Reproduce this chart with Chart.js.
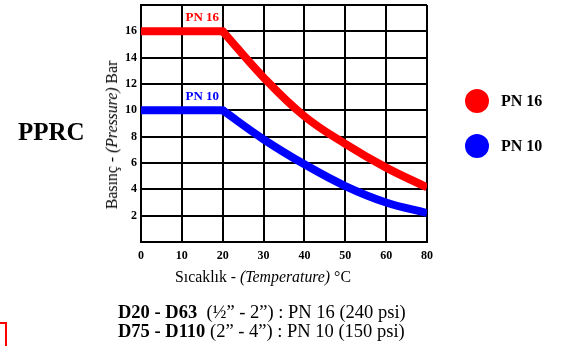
<!DOCTYPE html>
<html>
<head>
<meta charset="utf-8">
<script src="https://cdn.jsdelivr.net/npm/chart.js@4"></script>
<style>
  html, body { margin: 0; padding: 0; background: #fff; }
  #wrap { position: relative; width: 569px; height: 346px; overflow: hidden; font-family: "Liberation Serif", "Times New Roman", serif; color: #000; }
  #c { position: absolute; left: 0; top: 0; }
  .abs { position: absolute; white-space: nowrap; }
  #pprc { left: 18px; top: 117px; font-size: 25px; font-weight: bold; line-height: 30px; }
  #ytitle { left: 112px; top: 135px; font-size: 15.8px; transform: translate(-50%, -50%) rotate(-90deg); }
  #xtitle { left: 263px; top: 277px; font-size: 15.8px; transform: translate(-50%, -50%); }
  .leg { left: 465px; width: 24px; height: 24px; border-radius: 50%; }
  .legt { left: 501px; font-size: 16px; font-weight: bold; transform: translateY(-50%); }
  #note { left: 118px; top: 302.5px; font-size: 18.5px; line-height: 19px; }
  #bracket { left: -12px; top: 322px; width: 15px; height: 40px; border: 2px solid #ff0000; }
</style>
</head>
<body>
<div id="wrap">
  <canvas id="c" width="569" height="346"></canvas>
  <div class="abs" id="pprc">PPRC</div>
  <div class="abs" id="ytitle">Basınç - <i>(Pressure)</i> Bar</div>
  <div class="abs" id="xtitle">Sıcaklık - <i>(Temperature)</i> °C</div>
  <div class="abs leg" style="top:89px;background:#ff0000"></div>
  <div class="abs legt" style="top:101px">PN 16</div>
  <div class="abs leg" style="top:134px;background:#0000ff"></div>
  <div class="abs legt" style="top:146px">PN 10</div>
  <div class="abs" id="note"><b>D20 - D63</b>&nbsp; (½” - 2”) : PN 16 (240 psi)<br><b>D75 - D110</b> (2” - 4”) : PN 10 (150 psi)</div>
  <div class="abs" id="bracket"></div>
</div>
<script>
// ---- data ----
const temperatures = ['0', '10', '20', '30', '40', '50', '60', '80'];
const pn16Values = [16, 16, 16, 12.5, 9.55, 7.45, 5.65, 4.15];
const pn10Values = [10, 10, 10, 7.8, 5.9, 4.25, 3.0, 2.2];
const yTickLabels = [2, 4, 6, 8, 10, 12, 14, 16];
const yMax = 18;
const seriesNames = ['PN 16', 'PN 10'];
const seriesColors = ['#ff0000', '#0000ff'];
const flatEndIndex = 2; // constant-pressure range ends at 20 °C

function flatPart(vals) { return vals.map((v, i) => i <= flatEndIndex ? v : null); }
function curvePart(vals) { return vals.map((v, i) => i >= flatEndIndex ? v : null); }

const seriesValues = [pn16Values, pn10Values];
const datasets = [];
seriesValues.forEach((vals, s) => {
  datasets.push({
    label: seriesNames[s], data: flatPart(vals), borderColor: seriesColors[s],
    borderWidth: 8, pointRadius: 0, tension: 0, borderCapStyle: 'round', clip: 0, fill: false, spanGaps: false
  });
  datasets.push({
    label: seriesNames[s] + ' curve', data: curvePart(vals), borderColor: seriesColors[s],
    borderWidth: 8, pointRadius: 0, tension: 0.4, borderCapStyle: 'butt', clip: 0, fill: false, spanGaps: false
  });
});

const seriesLabelPlugin = {
  id: 'seriesLabels',
  afterDatasetsDraw(chart) {
    const ctx = chart.ctx, xs = chart.scales.x, ys = chart.scales.y;
    ctx.save();
    ctx.font = 'bold 13px "Liberation Serif"';
    ctx.textAlign = 'center';
    ctx.textBaseline = 'middle';
    seriesValues.forEach((vals, s) => {
      const x = (xs.getPixelForValue(flatEndIndex - 1) + xs.getPixelForValue(flatEndIndex)) / 2;
      const y = ys.getPixelForValue(vals[flatEndIndex]) - 14;
      ctx.fillStyle = seriesColors[s];
      ctx.fillText(seriesNames[s], x, y);
    });
    ctx.restore();
  }
};

new Chart(document.getElementById('c'), {
  type: 'line',
  data: { labels: temperatures, datasets },
  plugins: [seriesLabelPlugin],
  options: {
    responsive: false,
    animation: false,
    events: [],
    layout: { padding: { left: 100, top: 5, right: 142, bottom: 74 } },
    plugins: { legend: { display: false }, tooltip: { enabled: false } },
    scales: {
      x: {
        type: 'category',
        offset: false,
        grid: { color: '#000', lineWidth: 2, drawTicks: false },
        border: { color: '#000', width: 2 },
        ticks: { color: '#000', font: { family: 'Liberation Serif', size: 12, weight: 'bold' }, padding: 7, maxRotation: 0, autoSkip: false },
        afterFit(scale) { scale.height = 30; scale.paddingLeft = 0; scale.paddingRight = 0; }
      },
      y: {
        min: 0, max: yMax,
        grid: { color: '#000', lineWidth: 2, drawTicks: false },
        border: { color: '#000', width: 2 },
        ticks: {
          stepSize: 2, color: '#000', padding: 4,
          font: { family: 'Liberation Serif', size: 12, weight: 'bold' },
          callback: (v) => yTickLabels.includes(v) ? String(v) : ''
        },
        afterFit(scale) { scale.width = 41; scale.paddingTop = 0; scale.paddingBottom = 0; }
      }
    }
  }
});
</script>
</body>
</html>
